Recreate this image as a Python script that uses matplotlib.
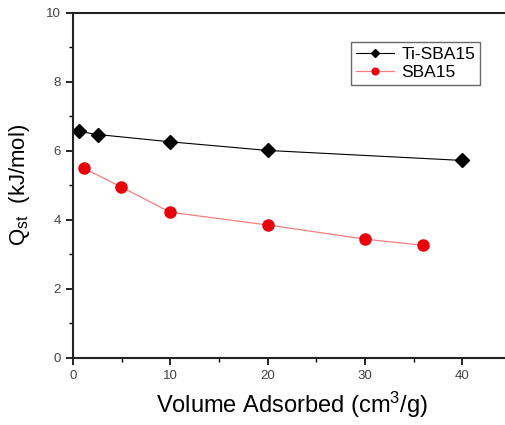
import matplotlib
matplotlib.use("Agg")
import matplotlib.pyplot as plt
from matplotlib.ticker import MultipleLocator

# Isosteric heat data
ti_volume = [0.6, 2.6, 10, 20, 40]
ti_qst = [6.56, 6.47, 6.26, 6.01, 5.72]

sba_volume = [1.1, 4.9, 10, 20, 30, 36]
sba_qst = [5.50, 4.96, 4.22, 3.85, 3.44, 3.26]

plt.rcParams['font.family'] = ['Liberation Sans', 'DejaVu Sans']
plt.rcParams['mathtext.fontset'] = 'custom'
plt.rcParams['mathtext.rm'] = 'Liberation Sans'
plt.rcParams['mathtext.it'] = 'Liberation Sans'

fig = plt.figure(figsize=(5.06, 4.25), dpi=100)
ax = fig.add_axes([0.144, 0.158, 0.866, 0.812])

ax.plot(ti_volume, ti_qst, color="black", lw=0.8, marker="D", ms=7,
        label="Ti-SBA15")
ax.plot(sba_volume, sba_qst, color="#f08080", lw=0.9, marker="o", ms=8,
        mfc="#e8000b", mec="#e8000b", label="SBA15")

ax.set_xlim(0, 45)
ax.set_ylim(0, 10)
ax.xaxis.set_major_locator(MultipleLocator(10))
ax.xaxis.set_minor_locator(MultipleLocator(5))
ax.yaxis.set_major_locator(MultipleLocator(2))
ax.yaxis.set_minor_locator(MultipleLocator(1))
ax.tick_params(which="major", direction="out", length=5, width=1.2,
               labelsize=9.5, labelcolor="#444444", top=False, right=False)
ax.tick_params(which="minor", direction="out", length=3, width=1.0,
               top=False, right=False)
for s in ax.spines.values():
    s.set_linewidth(1.5)
    s.set_color("#222222")

ax.set_xlabel("Volume Adsorbed (cm$^3$/g)", fontsize=17, labelpad=6)
ax.set_ylabel("Q$_{\\rm st}$  (kJ/mol)", fontsize=16, labelpad=10)

leg = ax.legend(loc="upper left", bbox_to_anchor=(0.615, 0.94), fontsize=12.5,
                frameon=True, fancybox=False, edgecolor="#444444",
                handlelength=2.2, borderpad=0.3, labelspacing=0.15,
                handletextpad=0.4, markerscale=0.6)
leg.get_frame().set_linewidth(1.0)

fig.savefig("out.png", dpi=100)
